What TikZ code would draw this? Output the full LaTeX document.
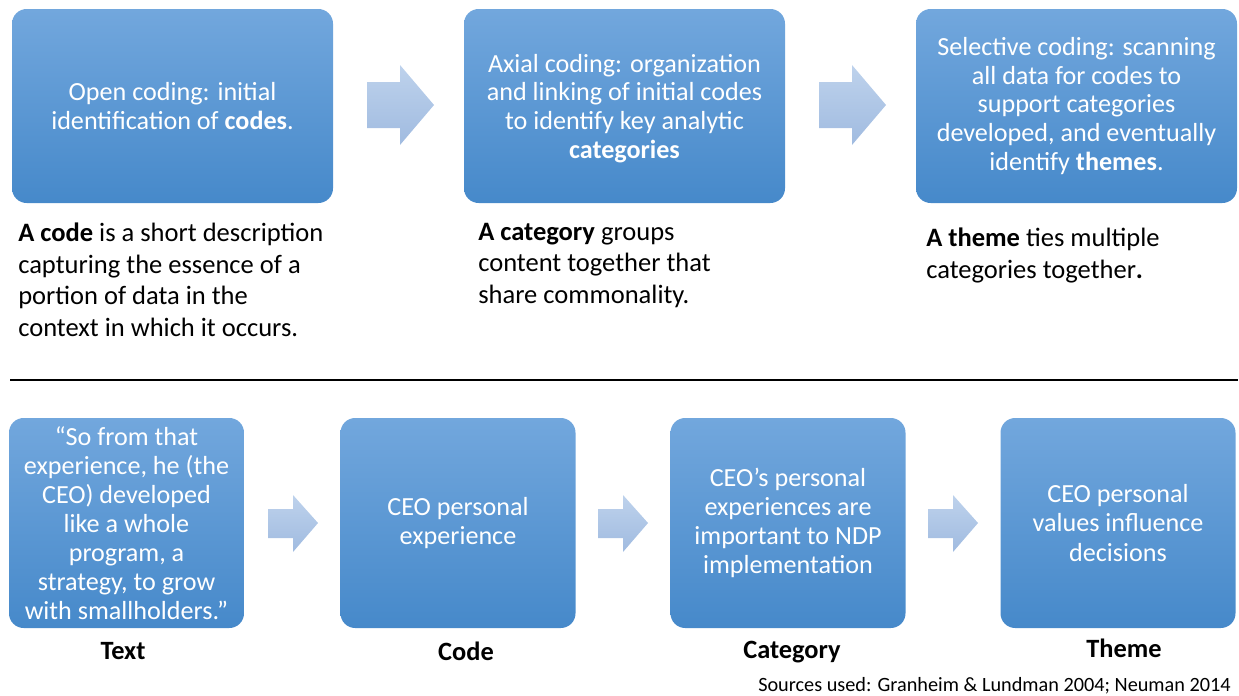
\documentclass[tikz,border=0pt]{standalone}
\usepackage{fontspec}
\setmainfont{Carlito}
\definecolor{boxtop}{RGB}{114,167,221}
\definecolor{boxbot}{RGB}{70,137,202}
\definecolor{arrtop}{RGB}{190,210,236}
\definecolor{arrbot}{RGB}{160,187,224}
\begin{document}
\begin{tikzpicture}[x=0.75pt,y=-0.75pt,
  boxbase/.style={shade, top color=boxtop, bottom color=boxbot, rounded corners=11pt, text=white, align=center, inner sep=0pt},
  topbox/.style={boxbase, minimum width=240.75pt, minimum height=145.5pt, font=\fontsize{19.6}{21.5}\selectfont},
  botbox/.style={boxbase, minimum width=176.25pt, minimum height=157.5pt, font=\fontsize{19.6}{21.8}\selectfont},
  desc/.style={anchor=north west, align=left, inner sep=0pt, font=\fontsize{19.9}{23.6}\selectfont},
  lab/.style={font=\bfseries\fontsize{19.8}{22}\selectfont, inner sep=0pt},
  blockarrow/.style={shade, top color=arrtop, bottom color=arrbot, draw=none}
]
\useasboundingbox (0,0) rectangle (1239,696);

% top row
\node[topbox] (t1) at (172.5,106) {Open coding: initial\\identification of \textbf{codes}.};
\node[topbox, text depth=-4.5pt] (t2) at (624.5,106) {Axial coding: organization\\and linking of initial codes\\to identify key analytic\\\textbf{categories}};
\node[topbox] (t3) at (1076.5,106) {Selective coding: scanning\\all data for codes to\\support categories\\developed, and eventually\\identify \textbf{themes}.};

% top block arrows
\shade[blockarrow] (367,82) -- (400,82) -- (400,65) -- (434,105) -- (400,145) -- (400,128) -- (367,128) -- cycle;
\shade[blockarrow] (819,82) -- (852,82) -- (852,65) -- (886,105) -- (852,145) -- (852,128) -- (819,128) -- cycle;

% descriptions
\node[desc] (d1) at (18,223) {\textbf{A code} is a short description\\capturing the essence of a\\portion of data in the\\context in which it occurs.};
\node[desc] (d2) at (478,223) {\textbf{A category} groups\\content together that\\share commonality.};
\node[desc] (d3) at (926,228) {\textbf{A theme} ties multiple\\categories together\textbf{.}};

% separator
\coordinate (sepL) at (10,380);
\coordinate (sepR) at (1238,380);
\draw[line width=1.6pt] (sepL) -- (sepR);

% bottom row
\node[botbox] (b1) at (126.5,523) {``So from that\\experience, he (the\\CEO) developed\\like a whole\\program, a\\strategy, to grow\\with smallholders.''};
\node[botbox] (b2) at (458,523) {CEO personal\\experience};
\node[botbox] (b3) at (788,523) {CEO's personal\\experiences are\\important to NDP\\implementation};
\node[botbox] (b4) at (1118,523) {CEO personal\\values influence\\decisions};

% bottom block arrows
\shade[blockarrow] (268,509) -- (293,509) -- (293,495) -- (318,523) -- (293,552) -- (293,538) -- (268,538) -- cycle;
\shade[blockarrow] (598,509) -- (623,509) -- (623,495) -- (648,523) -- (623,552) -- (623,538) -- (598,538) -- cycle;
\shade[blockarrow] (928,509) -- (953,509) -- (953,495) -- (978,523) -- (953,552) -- (953,538) -- (928,538) -- cycle;

% labels
\node[lab] (l1) at (123,651) {Text};
\node[lab] (l2) at (466,651) {Code};
\node[lab] (l3) at (792,652) {Category};
\node[lab] (l4) at (1124,648) {Theme};

\node[anchor=east, inner sep=0pt, font=\fontsize{15.2}{17}\selectfont] (src) at (1231,686) {Sources used: Granheim \& Lundman 2004; Neuman 2014};
\end{tikzpicture}
\end{document}
